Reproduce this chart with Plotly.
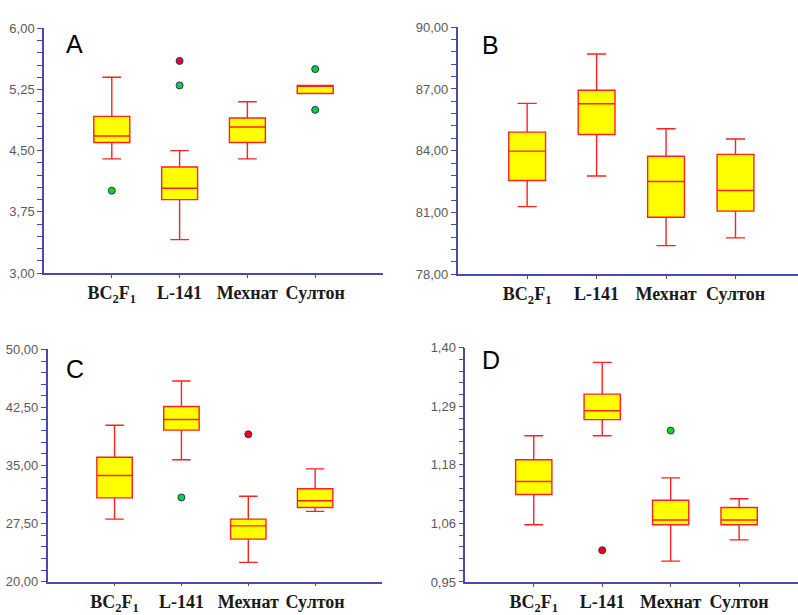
import plotly.graph_objects as go

# ---------------- data ----------------
categories = ["BC<sub>2</sub>F<sub>1</sub>", "L-141", "Мехнат", "Султон"]

# Panel A
a_low = [4.40, 3.41, 4.40, 5.20]
a_q1 = [4.60, 3.90, 4.60, 5.20]
a_med = [4.68, 4.04, 4.79, 5.29]
a_q3 = [4.92, 4.30, 4.90, 5.30]
a_high = [5.40, 4.50, 5.10, 5.30]
a_out_green_x = [0, 1, 3, 3]
a_out_green_y = [4.01, 5.30, 5.50, 5.00]
a_out_red_x = [1]
a_out_red_y = [5.60]

# Panel B
b_low = [81.28, 82.77, 79.38, 79.76]
b_q1 = [82.55, 84.79, 80.76, 81.06]
b_med = [83.98, 86.28, 82.50, 82.06]
b_q3 = [84.90, 86.94, 83.73, 83.82]
b_high = [86.30, 88.70, 85.07, 84.57]

# Panel C
c_low = [28.08, 35.75, 22.50, 29.08]
c_q1 = [30.83, 39.58, 25.50, 29.58]
c_med = [33.71, 40.96, 27.21, 30.46]
c_q3 = [36.08, 42.63, 28.08, 32.00]
c_high = [40.21, 45.92, 31.04, 34.58]
c_out_green_x = [1]
c_out_green_y = [30.88]
c_out_red_x = [2]
c_out_red_y = [39.04]

# Panel D
d_low = [1.060, 1.231, 0.990, 1.031]
d_q1 = [1.118, 1.262, 1.060, 1.060]
d_med = [1.143, 1.279, 1.069, 1.069]
d_q3 = [1.185, 1.311, 1.107, 1.093]
d_high = [1.231, 1.372, 1.150, 1.110]
d_out_green_x = [2]
d_out_green_y = [1.241]
d_out_red_x = [1]
d_out_red_y = [1.011]

# y-axis ticks
a_ticks = [3.00, 3.75, 4.50, 5.25, 6.00]
b_ticks = [78.0, 81.0, 84.0, 87.0, 90.0]
c_ticks = [20.0, 27.5, 35.0, 42.5, 50.0]
d_ticks = [0.95, 1.0625, 1.175, 1.2875, 1.40]
d_tick_labels = ["0,95", "1,06", "1,18", "1,29", "1,40"]

letters = ["A", "B", "C", "D"]

# ---------------- styling ----------------
W, H = 798, 615
AX = "#4A4AA8"
TICKC = "#5A5A5A"
BOXLINE = "#FF2020"
FILL = "#FFFF00"
GREEN = "#00DD00"
RED = "#FF0000"
OUTLINE = "#2A2AA0"

positions = list(range(len(categories)))

fig = go.Figure()

panels = [
    dict(low=a_low, q1=a_q1, med=a_med, q3=a_q3, high=a_high,
         gx=a_out_green_x, gy=a_out_green_y, rx=a_out_red_x, ry=a_out_red_y,
         ticks=a_ticks, labels=None, minor=0.15,
         xd=(44, 383), yd=(22, 275), xr=(-1, 4.0),
         letter=(0.0914, 0.937)),
    dict(low=b_low, q1=b_q1, med=b_med, q3=b_q3, high=b_high,
         gx=[], gy=[], rx=[], ry=[],
         ticks=b_ticks, labels=None, minor=0.6,
         xd=(457.7, 798), yd=(21, 276), xr=(-1, 3.9),
         letter=(0.095, 0.929)),
    dict(low=c_low, q1=c_q1, med=c_med, q3=c_q3, high=c_high,
         gx=c_out_green_x, gy=c_out_green_y, rx=c_out_red_x, ry=c_out_red_y,
         ticks=c_ticks, labels=None, minor=1.5,
         xd=(47.7, 382), yd=(354, 594), xr=(-1, 4.0),
         letter=(0.0817, 0.917)),
    dict(low=d_low, q1=d_q1, med=d_med, q3=d_q3, high=d_high,
         gx=d_out_green_x, gy=d_out_green_y, rx=d_out_red_x, ry=d_out_red_y,
         ticks=d_ticks, labels=d_tick_labels, minor=0.0225,
         xd=(465.3, 798), yd=(352.3, 594.3), xr=(-1, 3.86),
         letter=(0.077, 0.947)),
]

for i, p in enumerate(panels):
    n = "" if i == 0 else str(i + 1)
    xa, ya = "x" + n, "y" + n
    fig.add_trace(go.Box(
        x=positions, q1=p["q1"], median=p["med"], q3=p["q3"],
        lowerfence=p["low"], upperfence=p["high"],
        fillcolor=FILL, line=dict(color=BOXLINE, width=1.4),
        width=0.53, whiskerwidth=0.52, boxpoints=False,
        showlegend=False, hoverinfo="skip", xaxis=xa, yaxis=ya))
    if p["gx"]:
        fig.add_trace(go.Scatter(
            x=p["gx"], y=p["gy"], mode="markers",
            marker=dict(color=GREEN, size=7, line=dict(color=OUTLINE, width=1)),
            showlegend=False, xaxis=xa, yaxis=ya))
    if p["rx"]:
        fig.add_trace(go.Scatter(
            x=p["rx"], y=p["ry"], mode="markers",
            marker=dict(color=RED, size=7, line=dict(color=OUTLINE, width=1)),
            showlegend=False, xaxis=xa, yaxis=ya))

    t = p["ticks"]
    if p["labels"] is None:
        labels = [("%.2f" % v).replace(".", ",") for v in t]
    else:
        labels = p["labels"]

    xkey = "xaxis" + n
    ykey = "yaxis" + n
    fig.layout[xkey] = dict(
        domain=[p["xd"][0] / W, p["xd"][1] / W],
        range=list(p["xr"]), anchor=ya,
        tickmode="array", tickvals=positions, ticktext=categories,
        tickfont=dict(family="Liberation Serif", size=18, color="#1a1a1a", weight="bold"),
        showline=True, linecolor=AX, linewidth=1.5,
        ticks="outside", ticklen=3, tickcolor=AX, tickwidth=1,
        showgrid=False, zeroline=False, fixedrange=True,
    )
    fig.layout[ykey] = dict(
        domain=[1 - p["yd"][1] / H, 1 - p["yd"][0] / H],
        range=[t[0], t[-1]], anchor=xa,
        tickmode="array", tickvals=t, ticktext=labels,
        tickfont=dict(family="Liberation Sans", size=13, color=TICKC),
        showline=True, linecolor=AX, linewidth=1.5,
        ticks="outside", ticklen=5, tickcolor=AX, tickwidth=1,
        minor=dict(tick0=t[0], dtick=p["minor"], ticks="outside", ticklen=5,
                   tickcolor=AX, tickwidth=1),
        showgrid=False, zeroline=False, fixedrange=True,
    )
    fig.add_annotation(
        text=letters[i], xref=xa + " domain", yref=ya + " domain",
        x=p["letter"][0], y=p["letter"][1], showarrow=False,
        xanchor="center", yanchor="middle",
        font=dict(family="Liberation Sans", size=25, color="#000000"))

fig.update_layout(
    width=W, height=H, margin=dict(l=0, r=0, t=0, b=0),
    paper_bgcolor="white", plot_bgcolor="white",
)

fig.write_html("out.html")
